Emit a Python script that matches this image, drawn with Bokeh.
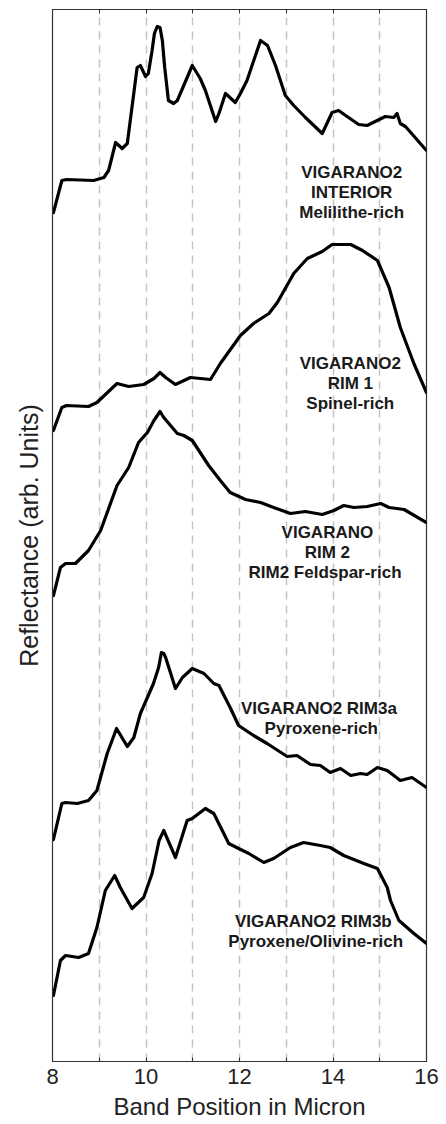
from bokeh.plotting import figure
from bokeh.models import Range1d, LinearAxis, FixedTicker, ColumnDataSource
from bokeh.core.properties import value
from bokeh.embed import file_html
from bokeh.resources import INLINE

# ---- data (band position in micron, reflectance in arbitrary units) ----
interior_x = [8.02, 8.2, 8.3, 8.88, 9.1, 9.2, 9.35, 9.49, 9.6, 9.81, 9.88, 9.99, 10.05, 10.13, 10.18, 10.24,
              10.3, 10.35, 10.4, 10.48, 10.59, 10.67, 10.99, 11.16, 11.27, 11.49, 11.56, 11.7, 11.91, 12.02,
              12.16, 12.45, 12.6, 12.77, 12.98, 13.16, 13.41, 13.77, 13.98, 14.12, 14.27, 14.55, 14.73,
              15.12, 15.3, 15.37, 15.44, 15.55, 16.0]
interior_y = [849, 881, 882, 881, 884, 891, 919, 913, 918, 994, 996, 985, 988, 1011, 1028, 1035,
              1034, 1021, 994, 961, 958, 961, 996, 983, 971, 940, 948, 968, 959, 968,
              981, 1021, 1016, 996, 966, 956, 944, 928, 949, 951, 946, 937, 936,
              945, 944, 948, 938, 935, 911]

rim1_x = [8.02, 8.2, 8.3, 8.77, 8.95, 9.38, 9.63, 9.95, 10.17, 10.3, 10.42, 10.63, 10.95, 11.38, 11.59,
          12.02, 12.3, 12.63, 12.81, 13.16, 13.45, 13.77, 13.98, 14.38, 14.63, 14.95, 15.2, 15.44, 15.73, 16.0]
rim1_y = [631, 654, 656, 655, 659, 678, 675, 677, 683, 689, 684, 677, 684, 682, 698,
          726, 738, 748, 759, 788, 803, 810, 817, 817, 811, 801, 774, 734, 698, 669]

rim2_x = [8.02, 8.17, 8.28, 8.49, 8.77, 9.03, 9.38, 9.63, 9.84, 10.03, 10.17, 10.3, 10.38, 10.67, 10.81,
          10.99, 11.34, 11.59, 11.8, 12.13, 12.45, 12.73, 13.09, 13.41, 13.77, 14.02, 14.23, 14.45,
          14.73, 15.02, 15.2, 15.52, 16.0]
rim2_y = [466, 494, 498, 498, 511, 531, 576, 594, 619, 629, 641, 650, 644, 628, 626,
          621, 596, 581, 569, 562, 559, 554, 548, 550, 547, 551, 556, 554,
          555, 558, 554, 552, 539]

rim3a_x = [8.02, 8.2, 8.28, 8.53, 8.77, 8.95, 9.17, 9.37, 9.6, 9.74, 9.88, 10.03, 10.16, 10.27, 10.33,
           10.38, 10.42, 10.63, 10.78, 10.99, 11.24, 11.45, 11.56, 11.8, 11.98, 12.3, 12.59, 13.02, 13.23,
           13.52, 13.73, 13.94, 14.16, 14.38, 14.59, 14.73, 14.95, 15.16, 15.44, 15.69, 16.0]
rim3a_y = [222, 258, 259, 258, 261, 271, 308, 333, 315, 324, 348, 364, 378, 394, 409,
           408, 404, 373, 384, 393, 388, 378, 376, 354, 336, 326, 318, 305, 306,
           297, 296, 289, 293, 286, 288, 287, 294, 291, 281, 284, 274]

rim3b_x = [8.02, 8.17, 8.28, 8.56, 8.77, 8.95, 9.13, 9.33, 9.45, 9.7, 9.95, 10.13, 10.28, 10.38, 10.63,
           10.88, 10.99, 11.27, 11.45, 11.77, 11.98, 12.2, 12.52, 12.73, 13.09, 13.37, 13.73, 13.94,
           14.23, 14.66, 14.95, 15.16, 15.23, 15.41, 15.73, 16.0]
rim3b_y = [66, 101, 106, 104, 108, 134, 171, 186, 174, 153, 164, 188, 221, 231, 204,
           241, 243, 253, 248, 218, 213, 208, 199, 203, 214, 219, 216, 214,
           206, 198, 193, 174, 161, 141, 128, 118]

label_lines = [
    ["VIGARANO2", "INTERIOR", "Melilithe-rich"],
    ["VIGARANO2", "RIM 1", "Spinel-rich"],
    ["VIGARANO", "RIM 2", "RIM2  Feldspar-rich"],
    ["VIGARANO2  RIM3a", "Pyroxene-rich"],
    ["VIGARANO2  RIM3b", "Pyroxene/Olivine-rich"],
]
label_x = [14.40, 14.37, 13.88, 13.75, 13.63]
label_y_first = [889, 698, 529, 353, 140]
line_step = 20

x_major = [8, 10, 12, 14, 16]
x_minor = [9, 11, 13, 15]
x_all = [8, 9, 10, 11, 12, 13, 14, 15, 16]
grid_ticks = [9, 10, 11, 12, 13, 14, 15]

FONT = "Liberation Sans"
AX = "#333333"

p = figure(width=446, height=1124, output_backend="svg", toolbar_location=None,
           x_range=Range1d(8, 16), y_range=Range1d(0, 1052),
           min_border_left=52, min_border_right=20, min_border_top=9, min_border_bottom=63)
p.background_fill_color = "white"
p.border_fill_color = "white"
p.outline_line_color = AX
p.outline_line_width = 1.2

series = [(interior_x, interior_y), (rim1_x, rim1_y), (rim2_x, rim2_y),
          (rim3a_x, rim3a_y), (rim3b_x, rim3b_y)]
for xs, ys in series:
    p.line(xs, ys, line_color="black", line_width=3.2, line_join="round", line_cap="round")

# labels
tx, ty, tt = [], [], []
for lines, lx, ly in zip(label_lines, label_x, label_y_first):
    for i, t in enumerate(lines):
        tx.append(lx)
        ty.append(ly - i * line_step)
        tt.append(t)
src = ColumnDataSource(dict(x=tx, y=ty, text=tt))
p.text(x="x", y="y", text="text", source=src, text_font=value(FONT), text_font_style="bold",
       text_font_size="17px", text_color="#1a1a1a", text_align="center", text_baseline="middle")

# grid
p.ygrid.visible = False
p.xgrid.ticker = FixedTicker(ticks=grid_ticks)
p.xgrid.grid_line_color = "#c4c4c4"
p.xgrid.grid_line_dash = "8 6"
p.xgrid.grid_line_width = 1.5

# bottom axis
xa = p.xaxis[0]
xa.ticker = FixedTicker(ticks=x_major, minor_ticks=x_minor)
xa.major_tick_in = 4
xa.major_tick_out = 0
xa.minor_tick_in = 4
xa.minor_tick_out = 0
xa.axis_line_color = AX
xa.major_tick_line_color = AX
xa.minor_tick_line_color = AX
xa.major_label_text_font = FONT
xa.major_label_text_font_size = "22px"
xa.major_label_text_color = "#222222"
xa.major_label_standoff = 7
xa.axis_label = "Band Position in Micron"
xa.axis_label_text_font = FONT
xa.axis_label_text_font_size = "24px"
xa.axis_label_text_font_style = "normal"
xa.axis_label_text_color = "#222222"
xa.axis_label_standoff = 6

# left axis (no ticks, only the label)
ya = p.yaxis[0]
ya.ticker = FixedTicker(ticks=[], minor_ticks=[])
ya.major_tick_in = 0
ya.major_tick_out = 0
ya.minor_tick_in = 0
ya.minor_tick_out = 0
ya.axis_line_color = AX
ya.axis_label = "Reflectance (arb. Units)"
ya.axis_label_text_font = FONT
ya.axis_label_text_font_size = "25px"
ya.axis_label_text_font_style = "normal"
ya.axis_label_text_color = "#222222"
ya.axis_label_standoff = 10

# top axis: inward ticks only (minor ticks carry no labels)
top = LinearAxis(ticker=FixedTicker(ticks=[], minor_ticks=x_all))
top.major_tick_in = 0
top.major_tick_out = 0
top.minor_tick_in = 4
top.minor_tick_out = 0
top.axis_line_color = AX
top.minor_tick_line_color = AX
p.add_layout(top, "above")

open("out.html", "w").write(file_html(p, INLINE))
